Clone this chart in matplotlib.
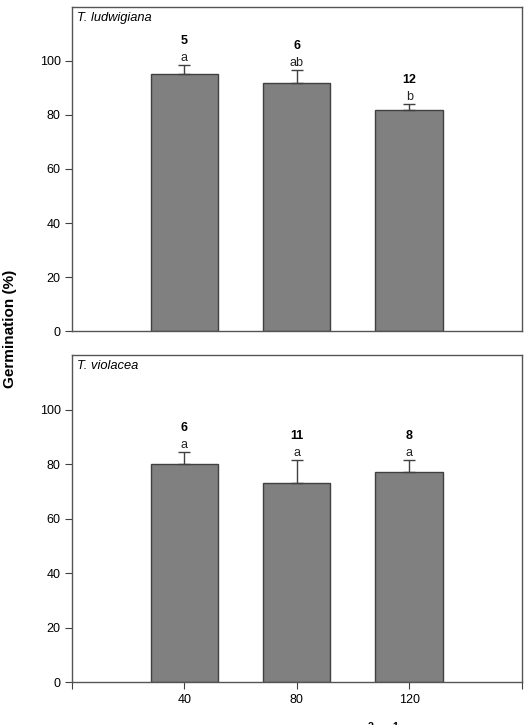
import matplotlib
matplotlib.use("Agg")
import matplotlib.pyplot as plt

plt.rcParams["font.family"] = ["Liberation Sans", "DejaVu Sans"]
plt.rcParams["mathtext.fontset"] = "custom"
plt.rcParams["mathtext.rm"] = "Liberation Sans"
plt.rcParams["mathtext.bf"] = "Liberation Sans:bold"

# data
light = [40, 80, 120]
species = ["T. ludwigiana", "T. violacea"]
germ_lud = [95, 92, 82]
err_lud = [3.5, 4.5, 2]
letters_lud = ["a", "ab", "b"]
n_lud = ["5", "6", "12"]
germ_vio = [80, 73, 77]
err_vio = [4.5, 8.5, 4.5]
letters_vio = ["a", "a", "a"]
n_vio = ["6", "11", "8"]

edge = "#404040"

fig = plt.figure(figsize=(5.28, 7.25), dpi=100)
ax_top = fig.add_axes([0.136, 0.5434, 0.852, 0.447])
ax_bot = fig.add_axes([0.136, 0.0593, 0.852, 0.451])


def panel(ax, vals, errs, letters, ns, title, show_x):
    ax.bar(light, vals, width=24, color="#808080", edgecolor=edge, linewidth=1.0, zorder=2)
    ax.errorbar(light, vals, yerr=[[0] * len(errs), errs], fmt="none",
                ecolor=edge, elinewidth=1.0, capsize=4, capthick=1.0, zorder=3)
    for x, v, e, let, n in zip(light, vals, errs, letters, ns):
        top = v + e
        ax.annotate(let, (x, top), xytext=(0, 1), textcoords="offset pixels",
                    ha="center", va="bottom", fontsize=9, color="#222222")
        ax.annotate(n, (x, top), xytext=(0, 18), textcoords="offset pixels",
                    ha="center", va="bottom", fontsize=9, fontweight="bold")
    ax.set_xlim(0, 160)
    ax.set_ylim(0, 120)
    ax.set_yticks([0, 20, 40, 60, 80, 100])
    ax.tick_params(axis="y", direction="out", length=5, labelsize=9, color=edge, pad=3)
    if show_x:
        ax.set_xticks([0, 40, 80, 120, 160])
        ax.set_xticklabels(["", "40", "80", "120", ""])
        ax.tick_params(axis="x", direction="out", length=5, labelsize=9, color=edge)
    else:
        ax.set_xticks([])
    for s in ax.spines.values():
        s.set_color("#555555")
        s.set_linewidth(1.0)
    ax.text(0.012, 0.985, title, transform=ax.transAxes, ha="left", va="top",
            fontsize=9.3, style="italic")


panel(ax_top, germ_lud, err_lud, letters_lud, n_lud, species[0], False)
panel(ax_bot, germ_vio, err_vio, letters_vio, n_vio, species[1], True)

fig.text(0.018, 0.546, "Germination (%)", rotation=90, ha="center", va="center",
         fontsize=11, fontweight="bold")
# x label sits mostly below the bottom edge, as in the original figure
fig.text(0.767, -0.0165, r"Light intensity ($\mathbf{\mu}$mol m$^{\mathbf{-2}}$ s$^{\mathbf{-1}}$)",
         ha="right", va="baseline", fontsize=11, fontweight="bold")

fig.savefig("out.png", dpi=100)
